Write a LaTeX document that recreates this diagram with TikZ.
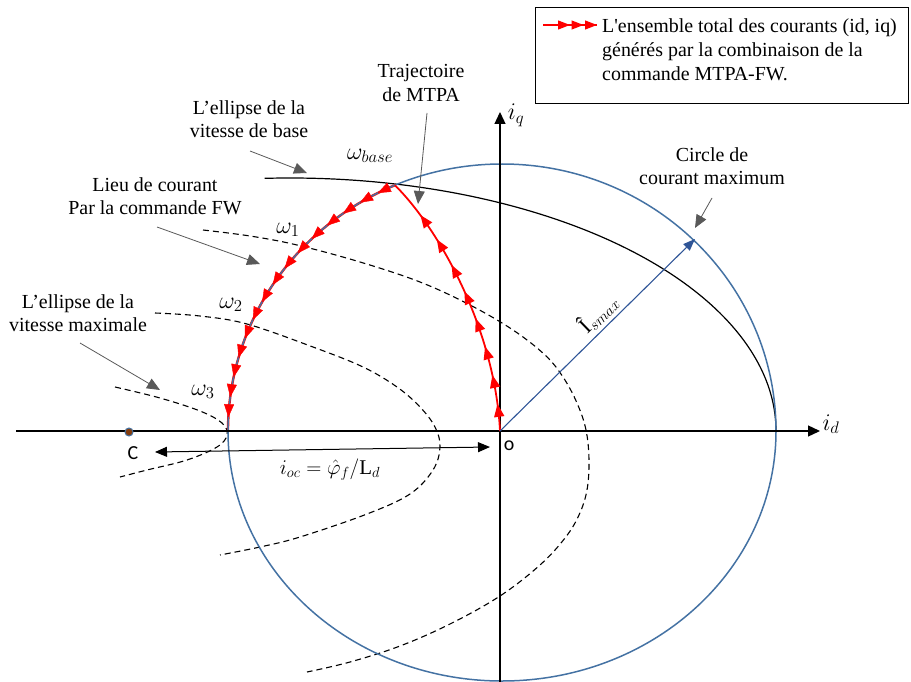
\RequirePackage{fix-cm}
\documentclass[tikz,border=0pt]{standalone}
\usepackage{fontspec}
\setmainfont{Liberation Serif}
\newfontfamily\legfont{Liberation Serif}
\newfontfamily\calib{Carlito}
\usetikzlibrary{arrows.meta,decorations.markings}
\definecolor{cblue}{RGB}{68,114,163}
\definecolor{darrow}{RGB}{47,85,151}
\definecolor{calgray}{RGB}{89,89,89}
\definecolor{cbrown}{RGB}{132,60,12}
\begin{document}
\begin{tikzpicture}[x=1bp,y=-1bp,
  txt/.style={font=\fontsize{20}{23.5}\selectfont, align=center, inner sep=0pt},
  mth/.style={font=\fontsize{24}{28}\selectfont, inner sep=0pt},
  axisline/.style={line width=1.3bp, -{Triangle[length=12bp,width=11bp]}},
  callout/.style={draw=calgray, line width=0.8bp, -{Triangle[length=13bp,width=11bp]}, color=calgray},
  dashcurve/.style={line width=1.1bp, dash pattern=on 6bp off 4bp},
  redtip/.style={decoration={markings, mark=between positions #1 with {\arrow[red]{Triangle[length=13bp,width=10bp]}}}, postaction={decorate}},
]
\useasboundingbox (0,0) rectangle (911,682);

% key points
\coordinate (O) at (500,431);
\coordinate (C0) at (502,431);
\coordinate (Lx) at (228,431);
\coordinate (Rx) at (776,431);
\coordinate (Eb) at (290,431);
\path (C0) ++(247:274 and 267) coordinate (fwtop);
\path (Eb) ++(267:486 and 253) coordinate (bstart);

% base-speed ellipse (solid)
\draw[line width=1.2bp] (bstart) arc[start angle=267, end angle=360, x radius=486, y radius=253];

% dashed ellipses
\draw[dashcurve] plot[smooth, tension=0.6] coordinates {(203,230) (250,236) (297,245) (360,262) (420,282) (470,305) (513,330) (545,355) (563,377) (577,403) (586,430) (589,460) (587,490) (579,515) (565,538) (540,565) (500,596) (450,624) (400,646) (350,662) (307,672)};
\draw[dashcurve] plot[smooth, tension=0.6] coordinates {(155,313) (200,316) (247,324) (313,347) (363,367) (397,387) (420,407) (435,427) (440,447) (433,470) (410,494) (367,514) (300,537) (260,547) (220,555)};
\draw[dashcurve] plot[smooth, tension=0.6] coordinates {(115,387) (160,398) (200,411) (222,423) (227,435) (217,447) (187,460) (147,470) (120,477)};

% FW locus (red under blue)
\draw[red, line width=2.4bp] (fwtop) arc[start angle=247, end angle=180, x radius=274, y radius=267];

% current-limit circle
\draw[cblue, line width=1.5bp] (Lx) arc[start angle=180, end angle=360, x radius=274, y radius=267];
\draw[cblue, line width=1.5bp] (Lx) arc[start angle=180, end angle=0, x radius=274, y radius=250];

% FW arrows
\path[redtip={0.06 and 0.96 step 0.064}] (fwtop) arc[start angle=247, end angle=180, x radius=274, y radius=267];

% axes
\draw[axisline] (16,431) -- (820,431);
\draw[axisline] (500,682) -- (500,112);

% MTPA trajectory
\draw[red, line width=1.8bp, redtip={0.1 and 0.96 step 0.108}] (O) .. controls (495,330) and (440,230) .. (fwtop);

% Is max vector
\coordinate (Ismax) at (695,239);
\draw[darrow, line width=1.1bp, -{Triangle[length=12bp,width=9bp]}] (O) -- (Ismax);
\node[font=\fontsize{22}{26}\selectfont, inner sep=0pt, rotate=44, text=black] (lIs) at (598,313) {Î$_{smax}$};

% i_oc arrow
\coordinate (ocR) at (490,447);
\coordinate (ocL) at (155,452);
\draw[line width=1bp, {Triangle[length=12bp,width=10bp]}-{Triangle[length=12bp,width=10bp]}] (ocL) -- (ocR);
\node[font=\fontsize{21}{25}\selectfont, inner sep=0pt] (lioc) at (330,470) {$i_{oc}=\hat{\varphi}_f/\mathrm{L}_d$};

% point C
\node[circle, draw=cblue, fill=cbrown, line width=1bp, minimum size=8bp, inner sep=0pt] (Cpt) at (129,432) {};
\node[inner sep=0pt, font=\calib\fontsize{20}{24}\selectfont] (lC) at (133,453) {C};
\node[inner sep=0pt, font=\calib\fontsize{20}{24}\selectfont] (lo) at (509,446) {o};

% axis labels
\node[mth] (liq) at (516,115) {$i_q$};
\node[mth] (lid) at (831,424) {$i_d$};

% omega labels
\node[mth] (wb) at (370,156) {$\omega_{base}$};
\node[mth] (w1) at (288,230) {$\omega_1$};
\node[mth] (w2) at (231,305) {$\omega_2$};
\node[mth] (w3) at (203,392) {$\omega_3$};

% callout texts
\node[txt] (tbase) at (249,119) {L’ellipse de la\\vitesse de base};
\node[txt] (tfw) at (155,196) {Lieu de courant\\Par la commande FW};
\node[txt] (tmax) at (78,313) {L’ellipse de la\\vitesse maximale};
\node[txt] (tmtpa) at (421,83) {Trajectoire\\de MTPA};
\node[txt] (tcirc) at (712,166) {Circle de\\courant maximum};

% callout arrows
\coordinate (a1s) at (250,151); \coordinate (a1e) at (307,173);
\coordinate (a2s) at (157,227); \coordinate (a2e) at (260,264);
\coordinate (a3s) at (80,343);  \coordinate (a3e) at (160,390);
\coordinate (a4s) at (427,113); \coordinate (a4e) at (418,204);
\coordinate (a5s) at (712,198); \coordinate (a5e) at (695,228);
\draw[callout] (a1s) -- (a1e);
\draw[callout] (a2s) -- (a2e);
\draw[callout] (a3s) -- (a3e);
\draw[callout] (a4s) -- (a4e);
\draw[callout] (a5s) -- (a5e);

% legend
\node[draw, line width=1.2bp, minimum width=373bp, minimum height=96bp, anchor=north west, inner sep=0pt] (legend) at (535,7) {};
\coordinate (lg1) at (543,25);
\coordinate (lg2) at (597,25);
\draw[red, line width=1.2bp, decoration={markings, mark=at position 0.5 with {\arrow{Triangle[length=12bp,width=9bp]}}, mark=at position 0.75 with {\arrow{Triangle[length=12bp,width=9bp]}}, mark=at position 1 with {\arrow{Triangle[length=12bp,width=9bp]}}}, postaction={decorate}] (lg1) -- (lg2);
\node[anchor=north west, align=left, inner sep=0pt, font=\legfont\fontsize{20}{24.5}\selectfont] (legtxt) at (602,18) {L'ensemble total des courants (id, iq)\\générés par la combinaison de la\\commande MTPA-FW.};
\end{tikzpicture}
\end{document}
